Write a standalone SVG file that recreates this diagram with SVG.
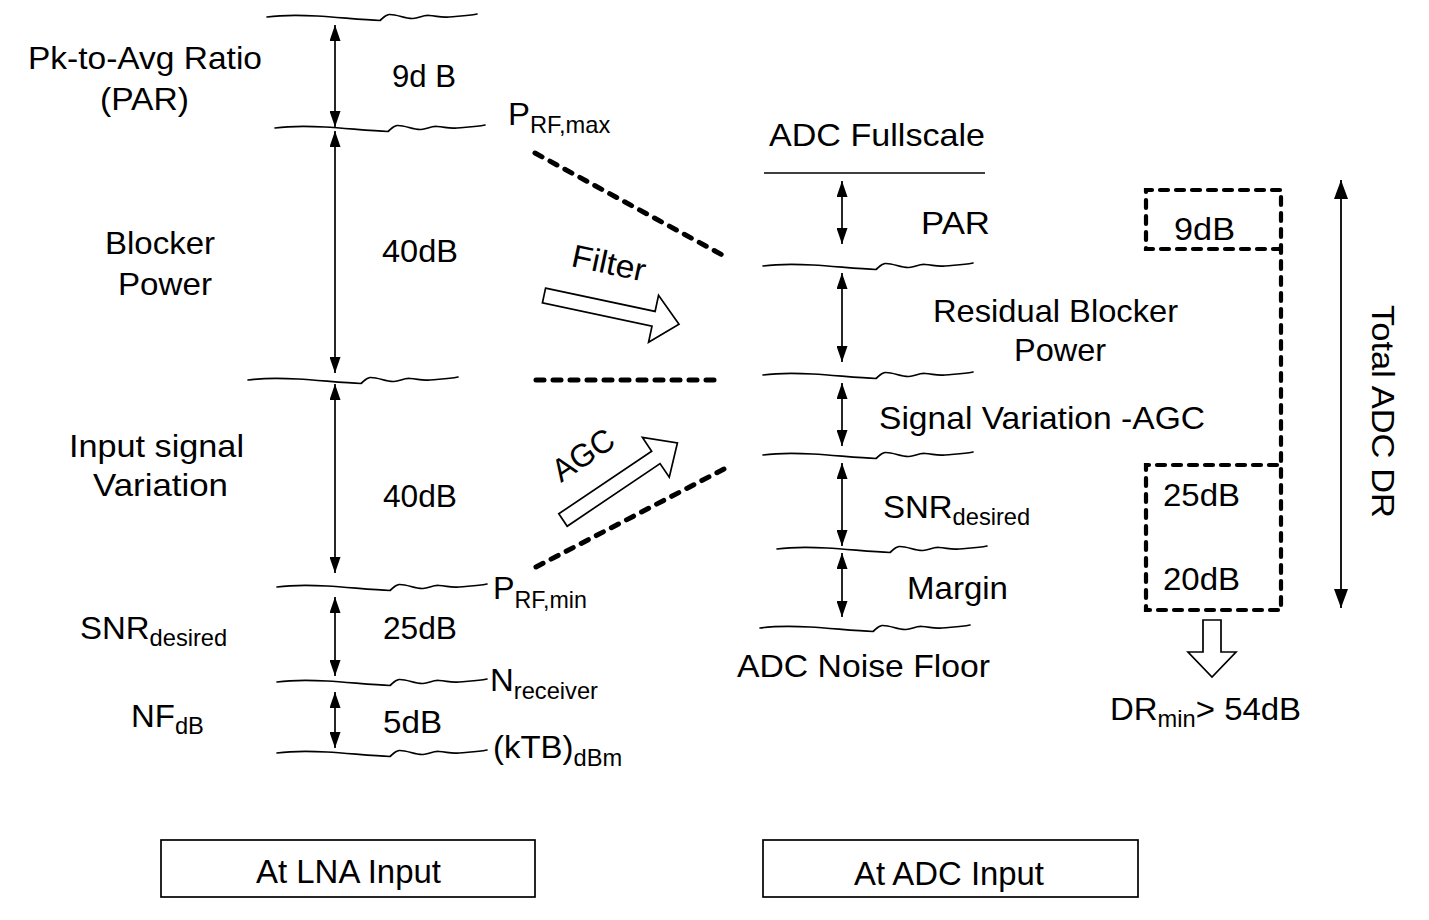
<svg xmlns="http://www.w3.org/2000/svg" xmlns:xlink="http://www.w3.org/1999/xlink" width="1429" height="920" viewBox="0 0 1429 920">
<style>
.t{font-family:"Liberation Sans",Arial,Helvetica,sans-serif;font-size:32px;fill:#000}
.s{font-size:23px}
.bx{font-size:34px}
.w{fill:none;stroke:#000;stroke-width:1.7;stroke-linecap:round}
.a{stroke:#000;stroke-width:1.7;marker-start:url(#ah);marker-end:url(#ah)}
.d{fill:none;stroke:#000;stroke-width:5;stroke-dasharray:8 9;stroke-linecap:round}
.db{fill:none;stroke:#000;stroke-width:4.2;stroke-dasharray:8 8;stroke-linecap:round}
.h{fill:#fff;stroke:#000;stroke-width:1.7;stroke-linejoin:miter}
.box{fill:#fff;stroke:#000;stroke-width:1.7}
</style>
<defs>
<marker id="ah" markerUnits="userSpaceOnUse" markerWidth="17" markerHeight="11" refX="16" refY="5.5" orient="auto-start-reverse"><path d="M0,0 L16,5.5 L0,11 z" fill="#000"/></marker>
<marker id="ahL" markerUnits="userSpaceOnUse" markerWidth="20" markerHeight="14" refX="19" refY="7" orient="auto-start-reverse"><path d="M0,0 L19,7 L0,14 z" fill="#000"/></marker>
<path id="wave" d="M0,0 C15,-2 30,-2 50,-1 C70,0 95,3 113,3.5 C116,1 118,-2 122,-2.5 C130,-3 138,2 146,1.5 C152,1 156,-2 162,-1.5 C170,-1 174,1 182,0 C192,-1 200,-1 210,-3"/>
<polygon id="bigArrow" points="0,-7.5 112,-7.5 112,-24 138,0 112,24 112,7.5 0,7.5"/>
</defs>

<g id="lna-levels">
<use xlink:href="#wave" href="#wave" class="w" x="267" y="17"/>
<use xlink:href="#wave" href="#wave" class="w" x="275" y="128"/>
<use xlink:href="#wave" href="#wave" class="w" x="248" y="380"/>
<use xlink:href="#wave" href="#wave" class="w" x="277" y="587"/>
<use xlink:href="#wave" href="#wave" class="w" x="277" y="682"/>
<use xlink:href="#wave" href="#wave" class="w" x="277" y="753"/>
</g>

<g id="lna-labels">
<text class="t" x="28" y="69" textLength="234" lengthAdjust="spacingAndGlyphs">Pk-to-Avg Ratio</text>
<text class="t" x="100" y="110" textLength="89" lengthAdjust="spacingAndGlyphs">(PAR)</text>
<text class="t" x="105" y="254" textLength="110" lengthAdjust="spacingAndGlyphs">Blocker</text>
<text class="t" x="118" y="295" textLength="94" lengthAdjust="spacingAndGlyphs">Power</text>
<text class="t" x="69" y="457" textLength="175" lengthAdjust="spacingAndGlyphs">Input signal</text>
<text class="t" x="93" y="496" textLength="135" lengthAdjust="spacingAndGlyphs">Variation</text>
<text class="t" transform="translate(80,639) scale(1.03,1)">SNR<tspan class="s" dy="7">desired</tspan></text>
<text class="t" transform="translate(131,727) scale(1.03,1)">NF<tspan class="s" dy="7">dB</tspan></text>
<text class="t" x="392" y="87" textLength="64" lengthAdjust="spacingAndGlyphs">9d B</text>
<text class="t" x="382" y="262" textLength="76" lengthAdjust="spacingAndGlyphs">40dB</text>
<text class="t" x="383" y="507" textLength="74" lengthAdjust="spacingAndGlyphs">40dB</text>
<text class="t" x="383" y="639" textLength="74" lengthAdjust="spacingAndGlyphs">25dB</text>
<text class="t" x="383" y="733" textLength="59" lengthAdjust="spacingAndGlyphs">5dB</text>
<text class="t" transform="translate(508,125) scale(1.03,1)">P<tspan class="s" dy="8">RF,max</tspan></text>
<text class="t" transform="translate(493,599) scale(1.01,1)">P<tspan class="s" dy="9">RF,min</tspan></text>
<text class="t" transform="translate(490,691) scale(1.03,1)">N<tspan class="s" dy="8">receiver</tspan></text>
<text class="t" transform="translate(493,758) scale(1.03,1)">(kTB)<tspan class="s" dy="8">dBm</tspan></text>
</g>

<g id="transition">
<line class="d" x1="535" y1="153" x2="726" y2="257"/>
<line class="d" x1="536" y1="380" x2="720" y2="380"/>
<line class="d" x1="536" y1="567" x2="726" y2="468"/>
<use xlink:href="#bigArrow" href="#bigArrow" class="h" transform="translate(544,295.5) rotate(12)"/>
<use xlink:href="#bigArrow" href="#bigArrow" class="h" transform="translate(563,520) rotate(-34)"/>
<text class="t" transform="translate(570,266) rotate(12)" textLength="75" lengthAdjust="spacingAndGlyphs">Filter</text>
<text class="t" transform="translate(561,483) rotate(-34)" textLength="68" lengthAdjust="spacingAndGlyphs">AGC</text>
</g>

<g id="adc-levels">
<line x1="764" y1="173" x2="985" y2="173" stroke="#000" stroke-width="1.7"/>
<use xlink:href="#wave" href="#wave" class="w" x="763" y="266"/>
<use xlink:href="#wave" href="#wave" class="w" x="763" y="375"/>
<use xlink:href="#wave" href="#wave" class="w" x="763" y="455"/>
<use xlink:href="#wave" href="#wave" class="w" x="777" y="549"/>
<use xlink:href="#wave" href="#wave" class="w" x="760" y="628"/>
</g>

<g id="adc-labels">
<text class="t" x="769" y="146" textLength="216" lengthAdjust="spacingAndGlyphs">ADC Fullscale</text>
<text class="t" x="921" y="234" textLength="69" lengthAdjust="spacingAndGlyphs">PAR</text>
<text class="t" x="933" y="322" textLength="245" lengthAdjust="spacingAndGlyphs">Residual Blocker</text>
<text class="t" x="1014" y="361" textLength="92" lengthAdjust="spacingAndGlyphs">Power</text>
<text class="t" x="879" y="429" textLength="326" lengthAdjust="spacingAndGlyphs">Signal Variation -AGC</text>
<text class="t" transform="translate(883,518) scale(1.03,1)">SNR<tspan class="s" dy="7">desired</tspan></text>
<text class="t" x="907" y="599" textLength="101" lengthAdjust="spacingAndGlyphs">Margin</text>
<text class="t" x="737" y="677" textLength="253" lengthAdjust="spacingAndGlyphs">ADC Noise Floor</text>
</g>

<g id="dr-budget">
<path class="db" d="M1281,249 H1146 V190 H1281 V610 H1146 V465 H1281"/>
<text class="t" x="1174" y="240" textLength="61" lengthAdjust="spacingAndGlyphs">9dB</text>
<text class="t" x="1163" y="506" textLength="77" lengthAdjust="spacingAndGlyphs">25dB</text>
<text class="t" x="1163" y="590" textLength="77" lengthAdjust="spacingAndGlyphs">20dB</text>
<polygon class="h" points="1203,620 1221,620 1221,652 1236,652 1212,677 1188,652 1203,652"/>
<text class="t" transform="translate(1110,720) scale(1.03,1)">DR<tspan class="s" dy="7">min</tspan><tspan dy="-7">&gt; 54dB</tspan></text>
</g>

<g id="total-dr">
<text class="t" transform="translate(1372,305) rotate(90)" textLength="213" lengthAdjust="spacingAndGlyphs">Total ADC DR</text>
</g>

<g id="connectors">
<line class="a" x1="335" y1="25" x2="335" y2="127"/>
<line class="a" x1="335" y1="131" x2="335" y2="373"/>
<line class="a" x1="335" y1="384" x2="335" y2="573"/>
<line class="a" x1="335" y1="597" x2="335" y2="676"/>
<line class="a" x1="335" y1="692" x2="335" y2="748"/>
<line class="a" x1="842" y1="181" x2="842" y2="244"/>
<line class="a" x1="842" y1="273" x2="842" y2="362"/>
<line class="a" x1="842" y1="383" x2="842" y2="446"/>
<line class="a" x1="842" y1="463" x2="842" y2="546"/>
<line class="a" x1="842" y1="553" x2="842" y2="617"/>
<line x1="1341" y1="180" x2="1341" y2="608" stroke="#000" stroke-width="1.8" marker-start="url(#ahL)" marker-end="url(#ahL)"/>
</g>

<g id="lna-box">
<rect class="box" x="161" y="840" width="374" height="57"/>
<text class="t bx" x="256" y="883" textLength="185" lengthAdjust="spacingAndGlyphs">At LNA Input</text>
</g>
<g id="adc-box">
<rect class="box" x="763" y="840" width="375" height="57"/>
<text class="t bx" x="854" y="885" textLength="190" lengthAdjust="spacingAndGlyphs">At ADC Input</text>
</g>
</svg>
